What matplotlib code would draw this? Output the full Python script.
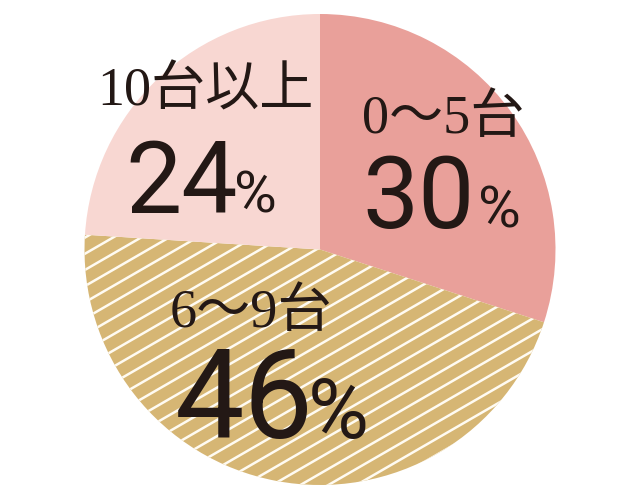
import numpy as np
import matplotlib
matplotlib.use("Agg")
import matplotlib.pyplot as plt
from matplotlib.collections import LineCollection

# data
labels = ["0～5台", "6～9台", "10台以上"]
shares = [30, 46, 24]
colors = ["#E9A09A", "#D6B674", "#F8D7D2"]

W, H = 640, 500
CX, CY, R = 320, 249.5, 235.5   # circle centre / radius in pixels

fig = plt.figure(figsize=(W / 100, H / 100), dpi=100)
ax = fig.add_axes([0, 0, 1, 1])

wedges, _ = ax.pie(shares, colors=colors, startangle=90, counterclock=False,
                   radius=1, wedgeprops=dict(linewidth=0))

# map pixels -> data so the circle lands where it should
ax.set_aspect("auto")
ax.set_xlim(-CX / R, (W - CX) / R)
ax.set_ylim(-(H - CY) / R, CY / R)
ax.axis("off")

# white diagonal stripes on the 6~9 slice
ang = np.deg2rad(30)
d = np.array([np.cos(ang), np.sin(ang)])
n = np.array([-np.sin(ang), np.cos(ang)])
step = 14.0 / R
segs = []
for c in np.arange(-1.3, 1.3, step):
    segs.append([c * n - 1.6 * d, c * n + 1.6 * d])
lc = LineCollection(segs, colors="#FFFBF2", linewidths=1.8)
ax.add_collection(lc)
lc.set_clip_path(wedges[1])

ink = "#231815"
serif = ["Liberation Serif", "Noto Sans CJK JP"]
num = ["Liberation Sans Narrow", "Roboto", "DejaVu Sans"]


def put(x, y, s, size, fam, weight="normal"):
    fig.text(x / W, 1 - y / H, s, fontsize=size, family=fam, color=ink,
             ha="left", va="baseline", fontweight=weight)


# category labels (x, baseline y in pixels)
label_pos = [(362, 133), (170, 327), (97, 106)]
for (x, y), s in zip(label_pos, labels):
    put(x, y, s, 39, serif)

# percentages: number + smaller %  (same order as shares)
pct_pos = [(362, 228, 72, 478, 42),
           (175, 438, 89, 308, 60),
           (125, 213, 72, 234, 42)]
for (x, y, big, xp, small), v in zip(pct_pos, shares):
    put(x, y, str(v), big, num)
    put(xp, y, "%", small, num)

fig.savefig("out.png", dpi=100)
